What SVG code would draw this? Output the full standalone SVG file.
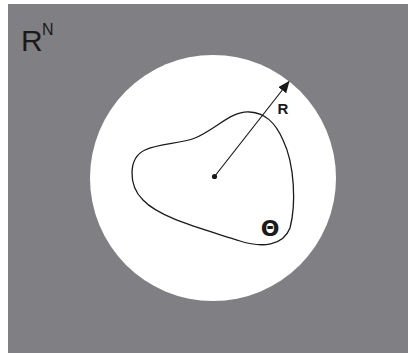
<svg xmlns="http://www.w3.org/2000/svg" width="408" height="353" viewBox="0 0 408 353">
<defs>
<style>
.bg{fill:#808084}
.ball{fill:#ffffff}
.curve{fill:none;stroke:#1a1a1a;stroke-width:1.3}
.conn{stroke:#1a1a1a;stroke-width:1.2;fill:none}
.lbl{font-family:"Liberation Sans",Arial,sans-serif;fill:#1a1a1a}
</style>
<marker id="ah" viewBox="0 0 12 10" refX="11" refY="5" markerWidth="12" markerHeight="10" markerUnits="userSpaceOnUse" orient="auto">
<path d="M0,0 L12,5 L0,10 Z" fill="#1a1a1a"/>
</marker>
</defs>
<rect width="408" height="353" fill="#ffffff"/>
<g id="space">
<rect class="bg" x="8" y="4" width="400" height="349"/>
<text class="lbl" x="21" y="51" font-size="30">R</text>
<text class="lbl" x="42" y="35" font-size="16">N</text>
</g>
<g id="ball">
<circle class="ball" cx="213" cy="178" r="123"/>
</g>
<g id="theta">
<path class="curve" d="M 250 112 C 232 110, 215 130, 195 138 C 180 144, 160 143, 145 150 C 128 158, 128 185, 143 200 C 160 218, 200 228, 240 241 C 262 248, 283 246, 290 228 C 296 205, 295 165, 283 140 C 275 122, 265 113, 250 112 Z"/>
<text x="270" y="236" font-size="22" font-weight="bold" text-anchor="middle" font-family="'DejaVu Sans',sans-serif" fill="#1a1a1a">Θ</text>
</g>
<g id="center">
<circle cx="214.5" cy="176.5" r="2.6" fill="#1a1a1a"/>
</g>
<g id="connectors">
<line class="conn" x1="214.5" y1="176.5" x2="289" y2="81.5" marker-end="url(#ah)"/>
<text class="lbl" x="283" y="114" font-size="15" font-weight="bold" text-anchor="middle">R</text>
</g>
</svg>
